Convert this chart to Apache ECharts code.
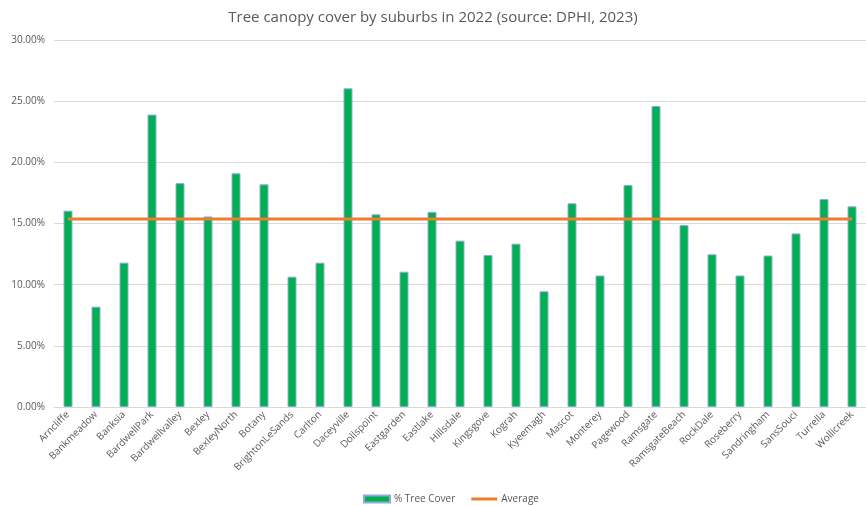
<!DOCTYPE html>
<html>
<head>
<meta charset="utf-8">
<script src="https://cdn.jsdelivr.net/npm/echarts@6/dist/echarts.min.js"></script>
<style>
  html, body { margin: 0; padding: 0; background: #fff; }
  #chart { width: 866px; height: 506px; }
</style>
</head>
<body>
<div id="chart"></div>
<script>
// Tree canopy cover per suburb, 2022 (values in %)
const suburbs = [
  "Arncliffe", "Bankmeadow", "Banksia", "BardwellPark", "Bardwellvalley",
  "Bexley", "BexleyNorth", "Botany", "BrightonLeSands", "Carlton",
  "Daceyville", "Dollspoint", "Eastgarden", "Eastlake", "Hillsdale",
  "Kingsgove", "Kograh", "Kyeemagh", "Mascot", "Monterey",
  "Pagewood", "Ramsgate", "RamsgateBeach", "RockDale", "Roseberry",
  "Sandringham", "SansSouci", "Turrella", "Wollicreek"
];
const treeCover = [
  16.05, 8.2, 11.8, 23.9, 18.3,
  15.57, 19.1, 18.2, 10.65, 11.8,
  26.05, 15.75, 11.06, 15.95, 13.6,
  12.43, 13.35, 9.46, 16.65, 10.75,
  18.15, 24.6, 14.87, 12.48, 10.75,
  12.38, 14.19, 17.0, 16.4
];
const averageValue = 15.36;
const averageLine = suburbs.map(() => averageValue);

const chart = echarts.init(document.getElementById("chart"));
const font = "'Open Sans', 'Liberation Sans', sans-serif";

chart.setOption({
  animation: false,
  textStyle: { fontFamily: font },
  title: {
    text: "Tree canopy cover by suburbs in 2022 (source: DPHI, 2023)",
    left: "center",
    top: 5,
    textStyle: { fontFamily: font, fontSize: 15, fontWeight: "normal", color: "#595959" }
  },
  grid: { left: 54, top: 40, width: 818, height: 367, containLabel: false },
  xAxis: {
    type: "category",
    data: suburbs,
    axisLine: { lineStyle: { color: "#d9d9d9" } },
    axisTick: { show: false },
    axisLabel: {
      interval: 0,
      rotate: 45,
      fontSize: 10,
      color: "#595959",
      margin: 6
    }
  },
  yAxis: {
    type: "value",
    min: 0,
    max: 30,
    interval: 5,
    axisLine: { show: false },
    axisTick: { show: false },
    splitLine: { lineStyle: { color: "#d9d9d9" } },
    axisLabel: {
      fontSize: 10,
      color: "#595959",
      margin: 9,
      formatter: (v) => v.toFixed(2) + "%"
    }
  },
  legend: {
    top: 489,
    left: 358,
    itemGap: 16,
    itemWidth: 26,
    itemHeight: 7,
    textStyle: { fontSize: 10, color: "#595959", padding: [0, 0, 0, -1] },
    data: [
      { name: "% Tree Cover", icon: "rect" },
      { name: "Average", icon: "path://M0,0 L26,0 L26,3 L0,3 Z" }
    ]
  },
  series: [
    {
      name: "% Tree Cover",
      type: "bar",
      data: treeCover,
      barWidth: 9,
      itemStyle: { color: "#00b050", borderColor: "#8eaadb", borderWidth: 1 }
    },
    {
      name: "Average",
      type: "line",
      data: averageLine,
      symbol: "none",
      lineStyle: { color: "#ed7d31", width: 3 },
      itemStyle: { color: "#ed7d31" }
    }
  ]
});
</script>
</body>
</html>
